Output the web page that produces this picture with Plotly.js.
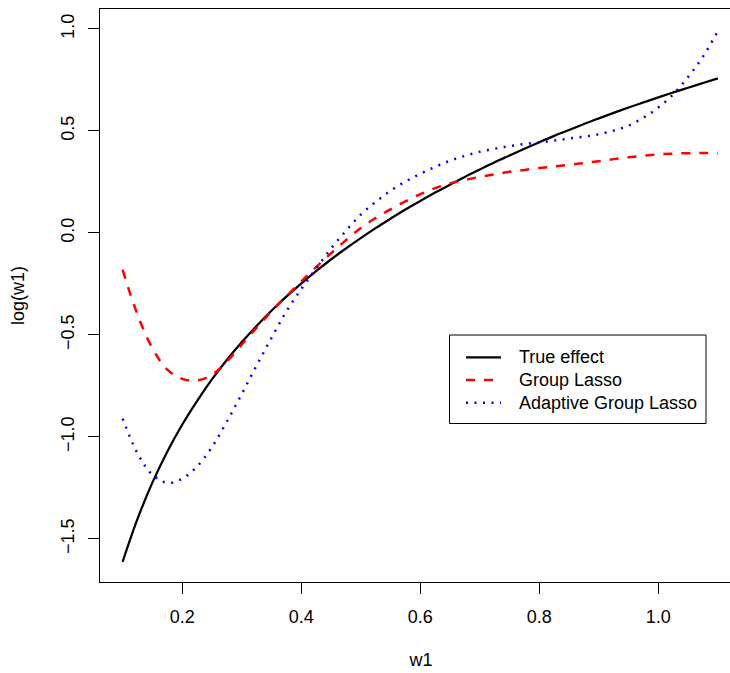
<!DOCTYPE html>
<html>
<head>
<meta charset="utf-8">
<script src="https://cdn.plot.ly/plotly-3.0.1.min.js"></script>
<style>
html, body { margin: 0; padding: 0; overflow: hidden; background: #fff; width: 730px; height: 673px; }
#chart { width: 745px; height: 673px; }
</style>
</head>
<body>
<div id="chart"></div>
<script>
// ---- data ----
var w1 = [0.100, 0.125, 0.150, 0.175, 0.200, 0.225, 0.250, 0.275, 0.300, 0.325,
          0.350, 0.375, 0.400, 0.425, 0.450, 0.475, 0.500, 0.525, 0.550, 0.575,
          0.600, 0.625, 0.650, 0.675, 0.700, 0.725, 0.750, 0.775, 0.800, 0.825,
          0.850, 0.875, 0.900, 0.925, 0.950, 0.975, 1.000, 1.025, 1.050, 1.075, 1.100];
var trueEffect = [-1.612, -1.402, -1.224, -1.072, -0.940, -0.824, -0.718, -0.623, -0.536, -0.456,
                  -0.381, -0.312, -0.248, -0.187, -0.130, -0.076, -0.025, 0.024, 0.070, 0.115,
                  0.157, 0.198, 0.237, 0.275, 0.311, 0.347, 0.380, 0.413, 0.445, 0.476,
                  0.505, 0.534, 0.562, 0.589, 0.615, 0.640, 0.665, 0.689, 0.712, 0.735, 0.758];
var groupLasso = [-0.18, -0.40, -0.565, -0.67, -0.715, -0.723, -0.695, -0.63, -0.548, -0.465,
                  -0.385, -0.31, -0.238, -0.167, -0.10, -0.036, 0.025, 0.073, 0.116, 0.155,
                  0.19, 0.22, 0.243, 0.26, 0.275, 0.288, 0.30, 0.309, 0.318, 0.326,
                  0.334, 0.343, 0.352, 0.362, 0.371, 0.379, 0.385, 0.389, 0.391, 0.392, 0.39];
var adaptiveGroupLasso = [-0.91, -1.08, -1.185, -1.225, -1.205, -1.145, -1.05, -0.925, -0.79, -0.65,
                          -0.515, -0.385, -0.275, -0.175, -0.077, 0.01, 0.09, 0.152, 0.207, 0.252,
                          0.29, 0.324, 0.354, 0.378, 0.398, 0.413, 0.426, 0.436, 0.444, 0.453,
                          0.463, 0.472, 0.484, 0.502, 0.527, 0.565, 0.615, 0.68, 0.765, 0.865, 0.99];
var seriesNames = ["True effect", "Group Lasso", "Adaptive Group Lasso"];
var xTicks = [0.2, 0.4, 0.6, 0.8, 1.0];
var xTickLabels = ["0.2", "0.4", "0.6", "0.8", "1.0"];
var yTicks = [-1.5, -1.0, -0.5, 0.0, 0.5, 1.0];
var yTickLabels = ["\u22121.5", "\u22121.0", "\u22120.5", "0.0", "0.5", "1.0"];

// ---- styles ----
var FONT = "Liberation Sans, Arial, Helvetica, sans-serif";
var styles = [
  {color: "#000000", width: 2.25, dash: "solid"},
  {color: "#ff0000", width: 2.5, dash: "9px,9px"},
  {color: "#0000ff", width: 2.5, dash: "2px,6.5px"}
];
var ys = [trueEffect, groupLasso, adaptiveGroupLasso];

var traces = ys.map(function (y, i) {
  return {
    x: w1, y: y, type: "scatter", mode: "lines", name: seriesNames[i],
    line: {color: styles[i].color, width: styles[i].width, dash: styles[i].dash, shape: "spline", smoothing: 1},
    showlegend: false, hoverinfo: "skip"
  };
});

var W = 745, H = 673, ML = 100, MR = 3, MT = 9, MB = 91;
var PW = W - ML - MR, PH = H - MT - MB;
function px(xp) { return (xp - ML) / PW; }
function py(yp) { return 1 - (yp - MT) / PH; }

// manual legend (R style box)
var shapes = [{
  type: "rect", xref: "paper", yref: "paper",
  x0: px(449.5), x1: px(706), y0: py(423.5), y1: py(335),
  line: {color: "#000", width: 1}, fillcolor: "#fff", layer: "above"
}];
var annotations = [];
var rowY = [357.3, 380, 402.7];
seriesNames.forEach(function (nm, i) {
  shapes.push({
    type: "line", xref: "paper", yref: "paper",
    x0: px(466), x1: px(501), y0: py(rowY[i]), y1: py(rowY[i]),
    line: {color: styles[i].color, width: styles[i].width, dash: styles[i].dash}, layer: "above"
  });
  annotations.push({
    xref: "paper", yref: "paper", x: px(517), y: py(rowY[i]),
    xanchor: "left", yanchor: "middle", showarrow: false, text: nm,
    font: {family: FONT, size: 18, color: "#000"}
  });
});

var layout = {
  width: W, height: H,
  margin: {l: ML, r: MR, t: MT, b: MB, pad: 0},
  paper_bgcolor: "#fff", plot_bgcolor: "#fff",
  font: {family: FONT, size: 18, color: "#000"},
  showlegend: false,
  xaxis: {
    range: [0.062, 1.1405], tickmode: "array", tickvals: xTicks, ticktext: xTickLabels,
    ticks: "outside", ticklen: 11, tickwidth: 1, tickcolor: "#000",
    showline: true, mirror: true, linecolor: "#000", linewidth: 1,
    showgrid: false, zeroline: false, automargin: false,
    tickfont: {family: FONT, size: 18, color: "#000"}, ticklabelstandoff: 7,
    title: {text: "w1", font: {family: FONT, size: 18, color: "#000"}, standoff: 27}
  },
  yaxis: {
    range: [-1.711, 1.098], tickmode: "array", tickvals: yTicks, ticktext: yTickLabels,
    ticks: "outside", ticklen: 11, tickwidth: 1, tickcolor: "#000", tickangle: -90,
    showline: true, mirror: true, linecolor: "#000", linewidth: 1,
    showgrid: false, zeroline: false, automargin: false,
    tickfont: {family: FONT, size: 18, color: "#000"}, ticklabelstandoff: 7,
    title: {text: "log(w1)", font: {family: FONT, size: 18, color: "#000"}, standoff: 28}
  },
  shapes: shapes,
  annotations: annotations
};

Plotly.newPlot("chart", traces, layout, {staticPlot: true, displayModeBar: false});
</script>
</body>
</html>
